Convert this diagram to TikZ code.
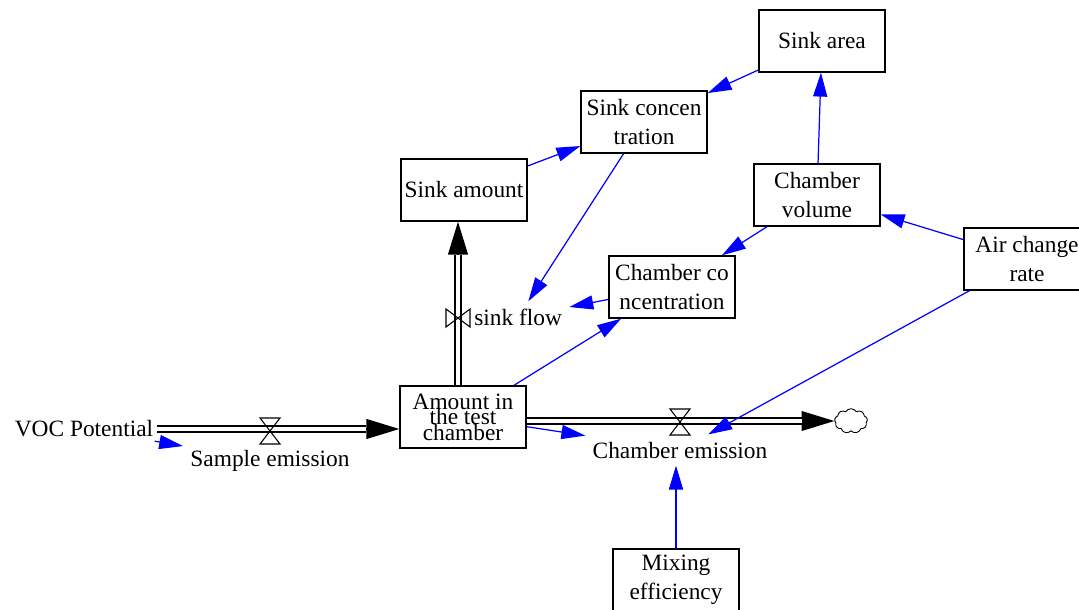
\documentclass[tikz,border=0pt]{standalone}
\usepackage{xcolor}
\usepackage{tikz}
\usepackage{fontspec}
\setmainfont{Liberation Serif}
\definecolor{linkblue}{RGB}{0, 0, 255}
\usetikzlibrary{arrows.meta, positioning, shapes.symbols, calc}
\newcommand{\tightlines}{\fontsize{13.3}{8.8}\selectfont\lineskiplimit=-20pt\relax}

\begin{document}
\begin{tikzpicture}[
        x=0.02cm, y=-0.02cm,
        every node/.style={font=\fontsize{13.3}{16.5}\selectfont},
        stockbox/.style={rectangle, draw=black, line width=0.8pt, minimum width=2.52cm, minimum height=1.24cm, align=center, inner sep=1pt},
        ratelabel/.style={inner sep=4pt},
        infolink/.style={draw=linkblue, line width=0.7pt, -{Triangle[length=13.6pt, width=8pt]}},
        pipe/.style={draw=black, line width=0.7pt, double=white, double distance=2.7pt, shorten >=18.7pt},
        pipehead/.style={draw=black, line width=0.7pt, -{Triangle[length=18.7pt, width=11.3pt]}},
        vvalve/.pic={\draw[line width=0.6pt] (-10,-13) -- (10,-13) -- (-10,13) -- (10,13) -- cycle;},
        hvalve/.pic={\draw[line width=0.6pt] (-12,-9) -- (-12,9) -- (12,-9) -- (12,9) -- cycle;},
    ]

        % Frame
        \useasboundingbox (0,0) rectangle (1079,609);
        \clip (0,0) rectangle (1079,609);

        % Levels and auxiliaries
        \node[stockbox] (sinkarea) at (822,41) {Sink area};
        \node[stockbox] (sinkconc) at (644,122) {Sink concen\\tration};
        \node[stockbox] (sinkamt) at (464,190) {Sink amount};
        \node[stockbox] (chvol) at (817,195) {Chamber\\volume};
        \node[stockbox] (aircr) at (1027,259) {Air change\\rate};
        \node[stockbox] (chconc) at (672,287) {Chamber co\\ncentration};
        \node[stockbox, font={\tightlines}] (amount) at (463,417) {Amount in\\the test\\chamber};
        \node[stockbox] (mixeff) at (676,580) {Mixing\\efficiency};

        % Source, sink and rates
        \node[inner sep=2pt] (voc) at (84,429) {VOC Potential};
        \node[cloud, draw, line width=0.5pt, cloud puffs=9, cloud puff arc=120, aspect=1.3, minimum width=18.7pt, minimum height=14pt, inner sep=0pt] (cloud) at (851,421) {};
        \node[ratelabel] (sampem) at (270,461) {Sample emission};
        \node[ratelabel] (chamem) at (680,450) {Chamber emission};
        \node[ratelabel, anchor=west] (sinkflow) at (467,317) {sink flow};

        \coordinate (v1) at (270,431);
        \coordinate (v2) at (680,422);
        \coordinate (v3) at (458,318);

        % Flows
        \draw[pipehead] (voc.east) -- (voc.east -| amount.west);
        \draw[pipe] (voc.east) -- (voc.east -| amount.west);
        \draw[pipehead] (cloud.west -| amount.east) -- (cloud.west);
        \draw[pipe] (cloud.west -| amount.east) -- (cloud.west);
        \draw[pipehead] (v3 |- amount.north) -- (v3 |- sinkamt.south);
        \draw[pipe] (v3 |- amount.north) -- (v3 |- sinkamt.south);
        \pic at (v1) {vvalve};
        \pic at (v2) {vvalve};
        \pic at (v3) {hvalve};

        % Information links
        \draw[infolink] (voc) -- (sampem);
        \draw[infolink] (sinkamt) -- (sinkconc);
        \draw[infolink] (sinkarea) -- (sinkconc);
        \draw[infolink] (sinkconc) -- (sinkflow);
        \draw[infolink] (chvol) -- (sinkarea);
        \draw[infolink] (chvol) -- (chconc);
        \draw[infolink] (aircr) -- (chvol);
        \draw[infolink] (chconc) -- (sinkflow);
        \draw[infolink] (amount) -- (chconc);
        \draw[infolink] (amount) -- (chamem);
        \draw[infolink] (aircr) -- (chamem);
        \draw[infolink] (mixeff) -- (mixeff |- chamem.south);

    \end{tikzpicture}
\end{document}
